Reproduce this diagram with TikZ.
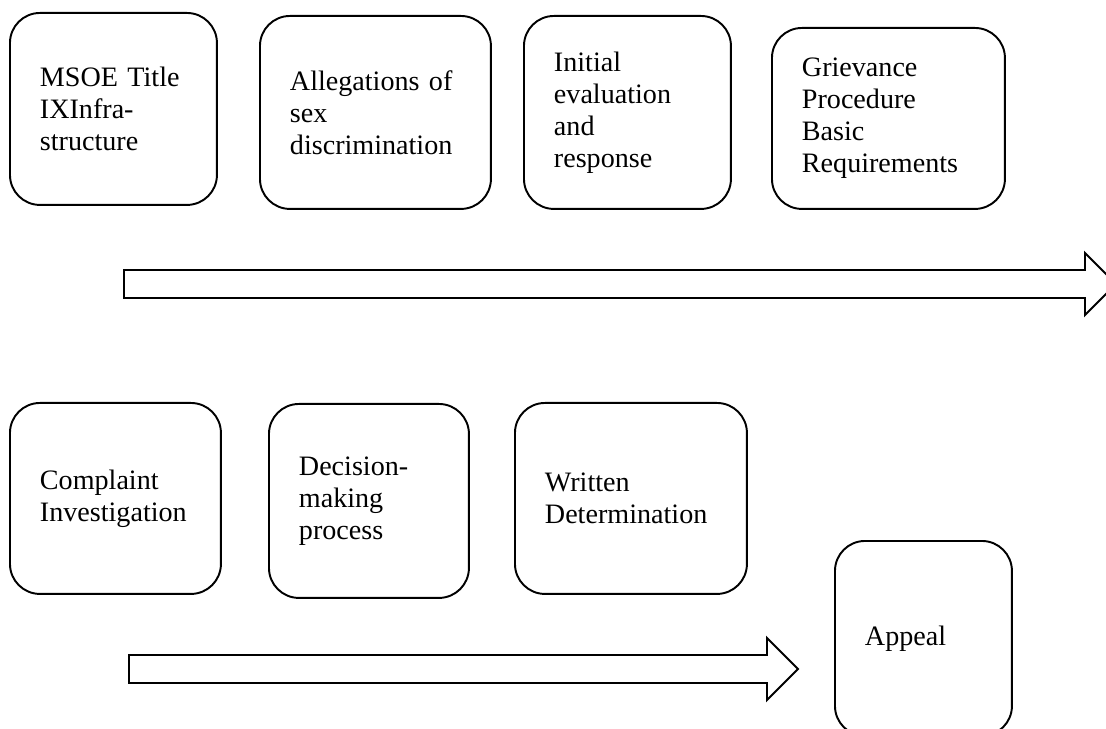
\documentclass[tikz,border=0pt]{standalone}
\usepackage{fontspec}
\setmainfont{Liberation Serif}
\tikzset{
    stagebox/.style n args={3}{draw, line width=1.1pt, rounded corners=0.6cm,
        anchor=north west, minimum width=#1, text width=#2, minimum height=#3,
        inner xsep=0.6cm, inner ysep=0pt, align=left,
        font=\fontsize{16pt}{18.2pt}\selectfont},
    arrowline/.style={draw, line width=1.1pt}
}
% block arrow: body start, head base, centre line
\newcommand{\flowArrow}[3]{%
    \draw[arrowline] (#1,#3-14) -- (#2,#3-14) -- (#2,#3-31) -- (#2+31,#3)
        -- (#2,#3+31) -- (#2,#3+14) -- (#1,#3+14) -- cycle;
}

\begin{document}
\begin{tikzpicture}[x=0.02cm, y=-0.02cm]
    \useasboundingbox (0,0) rectangle (1106,729);
    \clip (0,0) rectangle (1106,729);
    % first row
    \node[stagebox={4.14cm}{2.94cm}{3.84cm}] (msoe) at (9,12) {MSOE Title\\IXInfra-\\structure};
    \node[stagebox={4.62cm}{3.42cm}{3.86cm}] (alleg) at (259,15) {Allegations of\\sex\\discrimination};
    \node[stagebox={4.14cm}{2.94cm}{3.86cm}] (initial) at (523,15) {Initial\\evaluation\\and\\response};
    \node[stagebox={4.66cm}{3.46cm}{3.62cm}] (grievance) at (771,27) {Grievance\\Procedure\\Basic\\Requirements};
    \flowArrow{124}{1085}{284}
    % second row
    \node[stagebox={4.22cm}{3.02cm}{3.82cm}] (complaint) at (9,402) {Complaint\\Investigation};
    \node[stagebox={4.00cm}{2.80cm}{3.88cm}] (decision) at (268,403) {Decision-\\making\\process};
    \node[stagebox={4.64cm}{3.44cm}{3.82cm}] (written) at (514,402) {Written\\Determination};
    \node[stagebox={3.54cm}{2.34cm}{3.90cm}] (appeal) at (834,540) {Appeal};
    \flowArrow{129}{767}{669}
\end{tikzpicture}
\end{document}
